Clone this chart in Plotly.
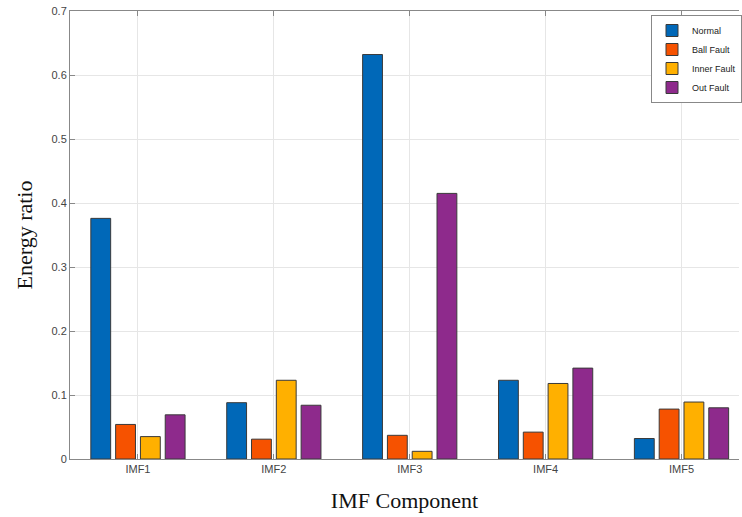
import plotly.graph_objects as go

categories = ["IMF1", "IMF2", "IMF3", "IMF4", "IMF5"]
normal = [0.376, 0.088, 0.632, 0.123, 0.032]
ball_fault = [0.054, 0.031, 0.037, 0.042, 0.078]
inner_fault = [0.035, 0.123, 0.012, 0.118, 0.089]
out_fault = [0.069, 0.084, 0.415, 0.142, 0.080]

series = [
    ("Normal", normal, "#0068B8"),
    ("Ball Fault", ball_fault, "#F65200"),
    ("Inner Fault", inner_fault, "#FFB000"),
    ("Out Fault", out_fault, "#8E2A8C"),
]

fig = go.Figure()
for name, vals, col in series:
    fig.add_trace(go.Bar(
        x=categories, y=vals, name=name,
        marker=dict(color=col, line=dict(color="#3a3a3a", width=1)),
    ))

W, H = 742, 517
ml, mt, mb, mr = 70, 11, 58, 0
pw = W - ml - mr
spacing = 136.5
xmax = -0.5 + pw / spacing

fig.update_layout(
    width=W, height=H,
    margin=dict(l=ml, r=mr, t=mt, b=mb),
    paper_bgcolor="white", plot_bgcolor="white",
    barmode="group", bargap=0.27, bargroupgap=0.2,
    font=dict(family="Liberation Sans, Arial, sans-serif", color="#444"),
    legend=dict(
        x=(654 - ml) / pw, y=1 - (15 - mt) / 448, xanchor="left", yanchor="top",
        bgcolor="white", bordercolor="#888", borderwidth=1,
        font=dict(size=9, color="#222"),
        tracegroupgap=0, itemwidth=30,
    ),
    showlegend=True,
)
fig.update_xaxes(
    type="category", range=[-0.5, xmax],
    showgrid=True, gridcolor="#e6e6e6", gridwidth=1,
    showline=True, linecolor="#888", linewidth=1, mirror="ticks",
    ticks="inside", ticklen=5, tickcolor="#888",
    tickfont=dict(size=11, color="#444"),
    title=dict(text="IMF Component", font=dict(family="Liberation Serif, Times New Roman, serif", size=22, color="#111"), standoff=18),
)
fig.update_yaxes(
    range=[0, 0.7], dtick=0.1, tickformat="~g",
    showgrid=True, gridcolor="#e6e6e6", gridwidth=1,
    showline=True, linecolor="#888", linewidth=1, mirror=False,
    ticks="inside", ticklen=5, tickcolor="#888",
    tickfont=dict(size=11, color="#444"),
    zeroline=False,
    title=dict(text="Energy ratio", font=dict(family="Liberation Serif, Times New Roman, serif", size=22, color="#111"), standoff=12),
)

fig.write_html("out.html")
